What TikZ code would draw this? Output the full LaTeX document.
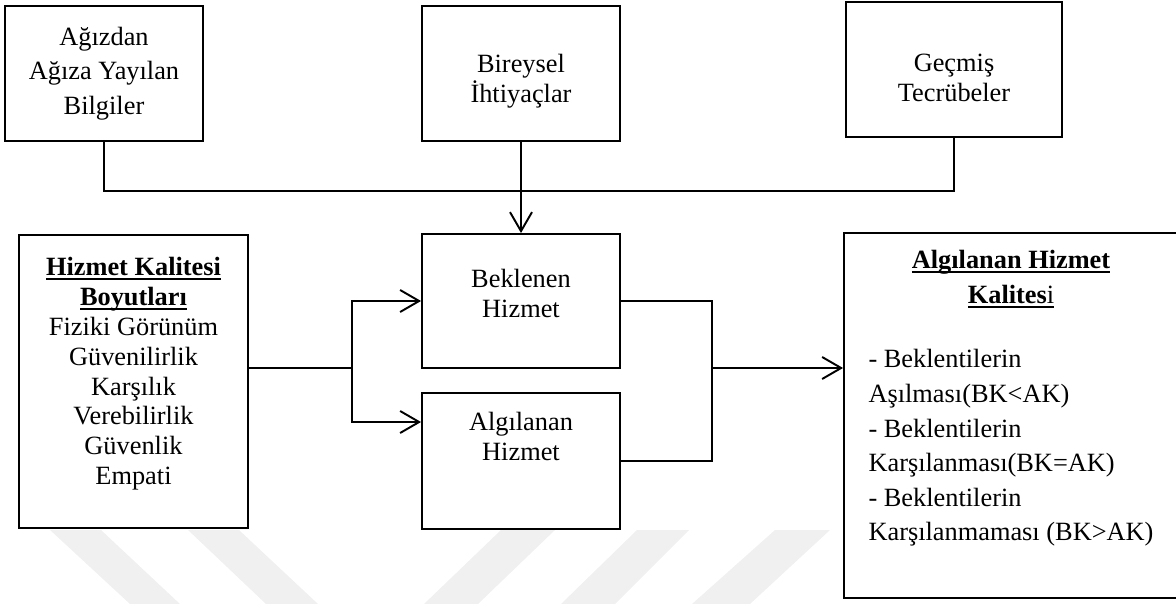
\documentclass[tikz,border=0pt]{standalone}
\usepackage{fontspec}
\setmainfont{Liberation Serif}
\usetikzlibrary{arrows.meta}

\newcommand{\ulbf}[1]{\leavevmode\setbox0=\hbox{\bfseries #1}\rlap{\rule[-2.6pt]{\wd0}{1.2pt}}\box0}

\begin{document}
\begin{tikzpicture}[x=0.02cm,y=-0.02cm,line width=1.1pt,
        box/.style={draw,rectangle,align=center,inner sep=2pt,font=\fontsize{15}{17}\selectfont},
        >={Straight Barb[length=3.8mm,width=4.4mm]}]
        \useasboundingbox (0,0) rectangle (1176,604);

        % faint watermark bands
        \fill[black!6] (50,530) -- (101,530) -- (180,604) -- (130,604) -- cycle;
        \fill[black!6] (188,530) -- (239,530) -- (318,604) -- (266,604) -- cycle;
        \fill[black!6] (501,530) -- (555,530) -- (478,604) -- (424,604) -- cycle;
        \fill[black!6] (637,530) -- (689,530) -- (615,604) -- (561,604) -- cycle;
        \fill[black!6] (775,530) -- (830,530) -- (750,604) -- (692,604) -- cycle;

        % top row
        \node[box,minimum width=3.96cm,minimum height=2.7cm,font=\fontsize{15}{19.6}\selectfont] (agiz) at (104,73.5) {Ağızdan\\Ağıza Yayılan\\Bilgiler};
        \node[box,minimum width=3.96cm,minimum height=2.7cm] (ihtiyac) at (521,73.5) {\mbox{}\\[2pt]Bireysel\\İhtiyaçlar};
        \node[box,minimum width=4.32cm,minimum height=2.7cm] (tecrube) at (954,69.5) {\mbox{}\\[2.6pt]Geçmiş\\Tecrübeler};

        % middle row
        \node[box,minimum width=4.58cm,minimum height=5.86cm] (boyut) at (133.5,381.5)
            {\ulbf{Hizmet Kalitesi}\\\ulbf{Boyutları}\\Fiziki Görünüm\\Güvenilirlik\\Karşılık\\Verebilirlik\\Güvenlik\\Empati\\[-5pt]\mbox{}};
        \node[box,minimum width=3.96cm,minimum height=2.68cm] (bekle) at (521,301) {Beklenen\\Hizmet\\[-8pt]\mbox{}};
        \node[box,minimum width=3.96cm,minimum height=2.72cm] (algi) at (521,461) {Algılanan\\Hizmet\\[11pt]\mbox{}};
        \node[box,minimum width=6.68cm,minimum height=7.3cm,font=\fontsize{15}{19.7}\selectfont] (sonuc) at (1011,415.5)
            {\begin{tabular}{@{}l@{}}
                \multicolumn{1}{@{}c@{}}{\ulbf{Algılanan Hizmet}}\\
                \multicolumn{1}{@{}c@{}}{\ulbf{Kalites\mdseries i}}\\[17pt]
                - Beklentilerin\\
                Aşılması(BK<AK)\\
                - Beklentilerin\\
                Karşılanması(BK=AK)\\
                - Beklentilerin\\
                Karşılanmaması (BK>AK)\\[20pt]
            \end{tabular}};

        % connectors
        \coordinate (bus) at (521,191);
        \coordinate (ayrim) at (352,368);
        \coordinate (birlesim) at (712,368);
        \coordinate (algigiris) at ([yshift=0.78cm]algi.west);
        \draw (agiz.south) |- (bus) -| (tecrube.south);
        \draw[->] (ihtiyac) -- (bekle);
        \draw (boyut.east |- ayrim) -- (ayrim);
        \draw[->] (ayrim) |- (bekle.west);
        \draw[->] (ayrim) |- (algigiris);
        \draw (bekle.east) -| (birlesim) |- (algi.east);
        \draw[->] (birlesim) -- (sonuc.west |- birlesim);
    \end{tikzpicture}
\end{document}
